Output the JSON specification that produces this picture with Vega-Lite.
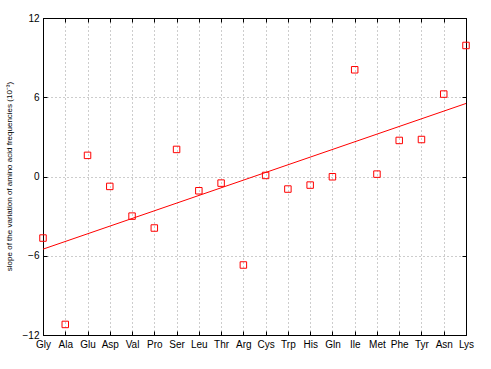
{
  "$schema": "https://vega.github.io/schema/vega-lite/v6.json",
  "width": 423,
  "height": 317,
  "autosize": {"type": "none"},
  "padding": {"left": 43, "top": 18, "right": 25, "bottom": 34},
  "background": "white",
  "config": {
    "view": {"stroke": "#000000", "strokeWidth": 1},
    "font": "Liberation Sans",
    "axis": {
      "labelFont": "Liberation Sans",
      "labelFontSize": 10,
      "labelColor": "#000000",
      "domainColor": "#000000",
      "tickColor": "#000000",
      "gridColor": "#9a9a9a",
      "gridDash": [1, 3],
      "gridWidth": 1
    }
  },
  "datasets": {
    "pts": [
      {"aa": "Gly", "slope": -4.66},
      {"aa": "Ala", "slope": -11.2},
      {"aa": "Glu", "slope": 1.6},
      {"aa": "Asp", "slope": -0.75},
      {"aa": "Val", "slope": -3.0},
      {"aa": "Pro", "slope": -3.9},
      {"aa": "Ser", "slope": 2.05},
      {"aa": "Leu", "slope": -1.08},
      {"aa": "Thr", "slope": -0.5},
      {"aa": "Arg", "slope": -6.7},
      {"aa": "Cys", "slope": 0.08},
      {"aa": "Trp", "slope": -0.95},
      {"aa": "His", "slope": -0.65},
      {"aa": "Gln", "slope": -0.02},
      {"aa": "Ile", "slope": 8.08},
      {"aa": "Met", "slope": 0.18},
      {"aa": "Phe", "slope": 2.73},
      {"aa": "Tyr", "slope": 2.8},
      {"aa": "Asn", "slope": 6.24},
      {"aa": "Lys", "slope": 9.92}
    ],
    "fit": [
      {"aa": "Gly", "fit": -5.5},
      {"aa": "Lys", "fit": 5.53}
    ]
  },
  "layer": [
    {
      "data": {"name": "pts"},
      "mark": {"type": "point", "shape": "square", "filled": false, "color": "#ff0000", "size": 42, "strokeWidth": 1, "opacity": 1},
      "encoding": {
        "x": {
          "field": "aa", "type": "ordinal",
          "scale": {"type": "point", "padding": 0, "domain": ["Gly","Ala","Glu","Asp","Val","Pro","Ser","Leu","Thr","Arg","Cys","Trp","His","Gln","Ile","Met","Phe","Tyr","Asn","Lys"]},
          "axis": {"orient": "bottom", "title": null, "labelAngle": 0, "grid": true, "domain": true, "ticks": true, "tickSize": -4, "labelPadding": 8}
        },
        "y": {
          "field": "slope", "type": "quantitative",
          "scale": {"domain": [-12, 12], "nice": false, "zero": false},
          "axis": {"orient": "left", "values": [-12, -6, 0, 6, 12], "grid": true, "gridDash": [1, 3], "tickSize": -4, "labelPadding": 8,
            "title": "slope of the variation of amino acid frequencies (10⁻³)",
            "titleFont": "Liberation Sans", "titleFontSize": 8, "titleFontWeight": "normal", "titleColor": "#000000",
            "titleX": -34, "titleY": 158, "titleAngle": -90, "titleAlign": "center", "titleBaseline": "middle"}
        }
      }
    },
    {
      "data": {"name": "fit"},
      "mark": {"type": "line", "color": "#ff0000", "strokeWidth": 1},
      "encoding": {
        "x": {"field": "aa", "type": "ordinal", "axis": {"orient": "top", "title": null, "labels": false, "grid": false, "domain": true, "ticks": true, "tickSize": -4}},
        "y": {"field": "fit", "type": "quantitative", "axis": {"orient": "right", "title": null, "labels": false, "grid": false, "domain": true, "ticks": true, "tickSize": -4, "values": [-12, -6, 0, 6, 12]}}
      }
    }
  ]
}
